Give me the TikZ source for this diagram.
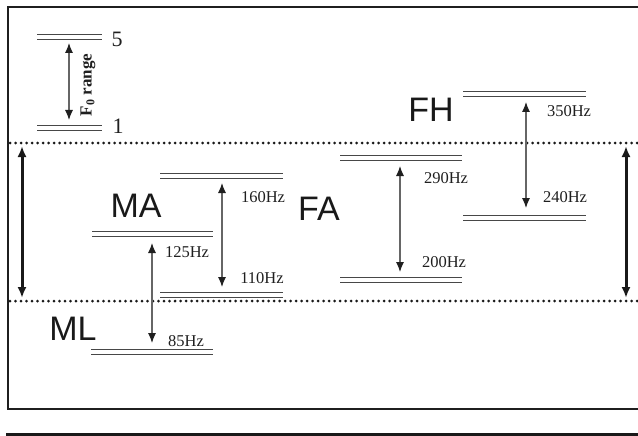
\documentclass[tikz,border=0pt]{standalone}
\usepackage{fontspec}
\setmainfont{Liberation Serif}
\newfontfamily\lblfont{Liberation Sans}
\usetikzlibrary{arrows.meta}
\newcommand\dbl[4][0]{\draw[lvl] (#2,#4) -- (#3,#4); \draw[lvl] (#2,#4+5) -- (#3,#4+5);}
\begin{document}
\begin{tikzpicture}[x=1pt,y=-1pt,
 lvl/.style={draw=black!72, line width=0.9pt},
 thinarr/.style={draw=black!60, line width=1.1pt, {Latex[length=10pt,width=8pt,color=black!88]}-{Latex[length=10pt,width=8pt,color=black!88]}},
 bigarr/.style={draw=black!90, line width=3pt, {Latex[length=11pt,width=9pt]}-{Latex[length=11pt,width=9pt]}},
 dotline/.style={draw=black!90, line width=3pt, dash pattern=on 0pt off 5.5pt, line cap=round},
 frame/.style={draw=black!88, line width=1.5pt},
 hz/.style={font=\fontsize{16.5}{18}\selectfont, text=black!88, inner sep=0pt},
 big/.style={font=\lblfont\fontsize{34}{36}\selectfont, text=black!90, inner sep=0pt},
 num/.style={font=\fontsize{22}{24}\selectfont, text=black!88, inner sep=0pt},
]
\useasboundingbox (0,0) rectangle (638,436);
% frame
\draw[frame] (638,7) -- (8,7) -- (8,409) -- (638,409);
\draw[draw=black!90, line width=3pt] (6,434) -- (638,434);
% dotted separators
\draw[dotline] (10,143) -- (638,143);
\draw[dotline] (10,301) -- (638,301);
% side arrows
\coordinate (la1) at (22,146); \coordinate (la2) at (22,298);
\coordinate (ra1) at (626,146); \coordinate (ra2) at (626,298);
\draw[bigarr] (la1) -- (la2);
\draw[bigarr] (ra1) -- (ra2);
% legend
\dbl{37}{102}{34}
\dbl{37}{102}{125}
\node[num] (n5) at (117,39) {5};
\node[num] (n1) at (118,126) {1};
\coordinate (lg1) at (69,43); \coordinate (lg2) at (69,120);
\draw[thinarr] (lg1) -- (lg2);
\node[font=\bfseries\fontsize{17}{19}\selectfont, rotate=90, inner sep=0pt, text=black!88] (f0) at (88,85) {F\textsubscript{0} range};
% MA
\dbl{160}{283}{173}
\dbl{92}{213}{231}
\dbl{160}{283}{292}
\node[big] (ma) at (136,206) {MA};
\coordinate (ma1) at (222,183); \coordinate (ma2) at (222,287);
\draw[thinarr] (ma1) -- (ma2);
\node[hz] (h160) at (263,197) {160Hz};
\node[hz] (h110) at (262,278) {110Hz};
% ML
\dbl{91}{213}{349}
\node[big] (ml) at (73,329) {ML};
\coordinate (ml1) at (152,243); \coordinate (ml2) at (152,343);
\draw[thinarr] (ml1) -- (ml2);
\node[hz] (h125) at (187,252) {125Hz};
\node[hz] (h85) at (186,341) {85Hz};
% FA
\dbl{340}{462}{155}
\dbl{340}{462}{277}
\node[big] (fa) at (319,209) {FA};
\coordinate (fa1) at (400,166); \coordinate (fa2) at (400,272);
\draw[thinarr] (fa1) -- (fa2);
\node[hz] (h290) at (446,178) {290Hz};
\node[hz] (h200) at (444,262) {200Hz};
% FH
\dbl{463}{586}{91}
\dbl{463}{586}{215}
\node[big] (fh) at (431,110) {FH};
\coordinate (fh1) at (526,102); \coordinate (fh2) at (526,208);
\draw[thinarr] (fh1) -- (fh2);
\node[hz] (h350) at (569,111) {350Hz};
\node[hz] (h240) at (565,197) {240Hz};
\end{tikzpicture}
\end{document}
